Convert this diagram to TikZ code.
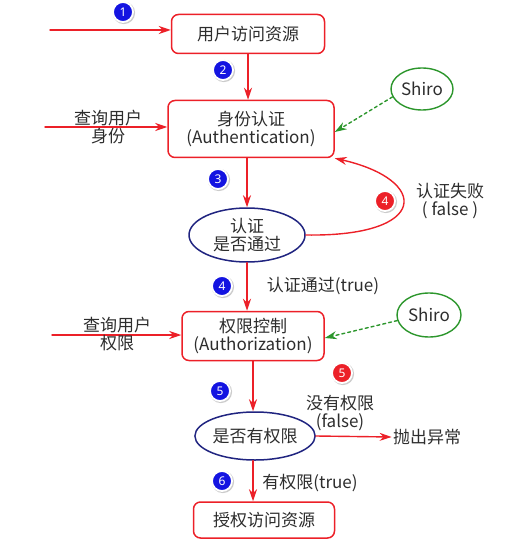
\documentclass[tikz,border=0pt]{standalone}
\usepackage{fontspec}
\setmainfont{Noto Sans CJK SC}
\newfontfamily\numfont{Noto Sans}
\usetikzlibrary{arrows.meta,shapes.geometric,shadows}
\definecolor{flowred}{RGB}{236,32,40}
\definecolor{flowblue}{RGB}{32,36,128}
\definecolor{badgeblue}{RGB}{20,20,225}
\definecolor{shirogreen}{RGB}{44,150,44}
\definecolor{txtgray}{RGB}{45,45,45}
\begin{document}
\begin{tikzpicture}[x=1pt,y=-1pt,line join=round,line cap=round,>={Stealth[length=12pt,width=8pt]},thick]
		\tikzset{stepbox/.style={draw=flowred,line width=1.5pt,rounded corners=7pt,align=center,text=txtgray,inner sep=1pt,font=\fontsize{17}{18}\selectfont},
			check/.style={ellipse,draw=flowblue,line width=1.5pt,align=center,text=txtgray,inner sep=0pt,font=\fontsize{17}{18}\selectfont},
			shiro/.style={ellipse,draw=shirogreen,line width=1.4pt,inner sep=0pt,text=txtgray,font=\fontsize{17}{18}\selectfont},
			note/.style={align=center,text=txtgray,inner sep=1pt,font=\fontsize{17}{17.5}\selectfont},
			flow/.style={->,draw=flowred,line width=1.4pt},
			call/.style={->,dashed,draw=shirogreen,line width=1.4pt},
			badge/.style={circle,fill=#1,draw=white,line width=1.8pt,text=white,inner sep=0pt,minimum size=20pt,font=\numfont\bfseries\fontsize{12}{12}\selectfont,drop shadow={shadow xshift=0.8pt,shadow yshift=-0.8pt,shadow scale=1.12,fill=black!40}}}
		\useasboundingbox (0,0) rectangle (524,553);
		\node[stepbox,minimum width=153pt,minimum height=39pt] (access) at (248,34) {用户访问资源};
		\node[stepbox,minimum width=166pt,minimum height=57pt] (authc) at (251,129) {身份认证\\(Authentication)};
		\node[check,minimum width=116pt,minimum height=54pt] (passed) at (247,235) {认证\\是否通过};
		\node[stepbox,minimum width=142pt,minimum height=49pt] (authz) at (253,336) {权限控制\\(Authorization)};
		\node[check,minimum width=116pt,minimum height=48pt] (allowed) at (255,436) {是否有权限};
		\node[stepbox,minimum width=141pt,minimum height=36pt] (grant) at (264,520) {授权访问资源};
		\node[shiro,minimum width=62pt,minimum height=42pt] (shiroA) at (422,89) {Shiro};
		\node[shiro,minimum width=64pt,minimum height=44pt] (shiroB) at (429,315) {Shiro};
		\node[note] (throw) at (427,437) {抛出异常};
		\coordinate (userin) at (50,30);
		\coordinate (queryA) at (45,127);
		\coordinate (queryB) at (52,335);
		\draw[flow] (userin)--(userin -| access.west);
		\draw[flow] (queryA)--(queryA -| authc.west);
		\draw[flow] (queryB)--(queryB -| authz.west);
		\node[note] at (108,127) {查询用户\\身份};
		\node[note] at (117,334) {查询用户\\权限};
		\draw[flow] (access.south)--(access.south |- authc.north);
		\draw[flow] (passed.north |- authc.south)--(passed.north);
		\draw[flow] (passed.south)--(passed.south |- authz.north);
		\draw[flow] (authz.south)--(authz.south |- allowed.north);
		\draw[flow] (authz.south |- allowed.south)--(authz.south |- grant.north);
		\draw[flow] (allowed.east)--(throw.west);
		\draw[flow] (passed.east) .. controls (430,237) and (430,180) .. (authc.south east);
		\draw[call] (shiroA.195)--([yshift=-3pt]authc.east);
		\draw[call] (shiroB.190)--([yshift=-2pt]authz.east);
		\node[note] at (450,201) {认证失败\\( false )};
		\node[note] at (323,286) {认证通过(true)};
		\node[note] at (340,413) {没有权限\\(false)};
		\node[note] at (310,483) {有权限(true)};
		\foreach \pos/\num/\col [count=\i] in {{(123,12)}/1/badgeblue,{(223,70)}/2/badgeblue,{(218,179)}/3/badgeblue,{(385,201)}/4/flowred,{(222,286)}/4/badgeblue,{(342,373)}/5/flowred,{(220,391)}/5/badgeblue,{(222,481)}/6/badgeblue}
		\node[badge=\col] (step\i) at \pos {\num};
\end{tikzpicture}
\end{document}
